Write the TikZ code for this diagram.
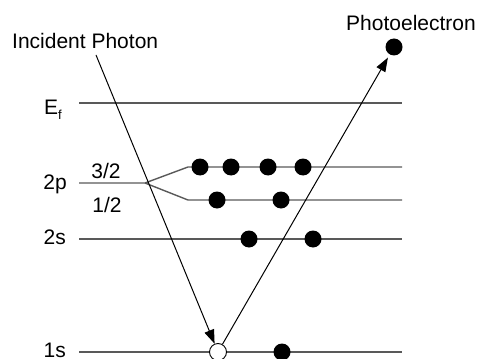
\documentclass[tikz,border=0pt]{standalone}
\usepackage{fontspec}
\setmainfont{Liberation Sans}
\usetikzlibrary{arrows.meta}
\begin{document}
\begin{tikzpicture}[x=1pt,y=-1pt,
  level/.style={draw=black!65, line width=1.4pt},
  ray/.style={draw=black, line width=1pt, -{Triangle[length=14pt,width=10pt]}},
  electron/.style={circle, fill=black, minimum size=17pt, inner sep=0pt},
  hole/.style={circle, draw=black, fill=white, line width=0.9pt, minimum size=17pt, inner sep=0pt},
  lab/.style={inner sep=0pt, font=\fontsize{21}{25}\selectfont}]
\useasboundingbox (0,0) rectangle (478,358);
% levels
\coordinate (efL) at (79,103); \coordinate (efR) at (402,103);
\coordinate (pL) at (79,183); \coordinate (pS) at (145,183);
\coordinate (p3a) at (188,167); \coordinate (p3b) at (402,167);
\coordinate (p1a) at (188,200); \coordinate (p1b) at (402,200);
\coordinate (sL) at (79,239); \coordinate (sR) at (402,239);
\coordinate (kL) at (79,352); \coordinate (kR) at (402,352);
\draw[level] (efL) -- (efR);
\draw[level] (pL) -- (pS) -- (p3a) -- (p3b);
\draw[level] (pS) -- (p1a) -- (p1b);
\draw[level] (sL) -- (sR);
\draw[level] (kL) -- (kR);
% labels
\node[lab, anchor=base east] (lef) at (62,115) {E\raisebox{-5pt}{\fontsize{13}{15}\selectfont f}};
\node[lab, anchor=base east] (l2p) at (67,189) {2p};
\node[lab, anchor=base] (l32) at (106,178) {3/2};
\node[lab, anchor=base] (l12) at (107,212) {1/2};
\node[lab, anchor=base east] (l2s) at (66,244) {2s};
\node[lab, anchor=base east] (l1s) at (66,357) {1s};
\node[lab, anchor=base west] (tip) at (12,49) {Incident Photon};
\node[lab, anchor=base west] (tpe) at (346,31) {Photoelectron};
% electrons
\node[electron] (a1) at (200,167) {};
\node[electron] (a2) at (231,167) {};
\node[electron] (a3) at (268,167) {};
\node[electron] (a4) at (303,167) {};
\node[electron] (b1) at (217,200) {};
\node[electron] (b2) at (281,200) {};
\node[electron] (c1) at (249,239) {};
\node[electron] (c2) at (313,239) {};
\node[hole] (h) at (218,352) {};
\node[electron] (d1) at (282,352) {};
\node[electron] (pe) at (394,47) {};
% rays
\coordinate (ipstart) at (96,55);
\draw[ray] (ipstart) -- (h);
\draw[ray, shorten >=3.5pt] (h) -- (pe);
\end{tikzpicture}
\end{document}
